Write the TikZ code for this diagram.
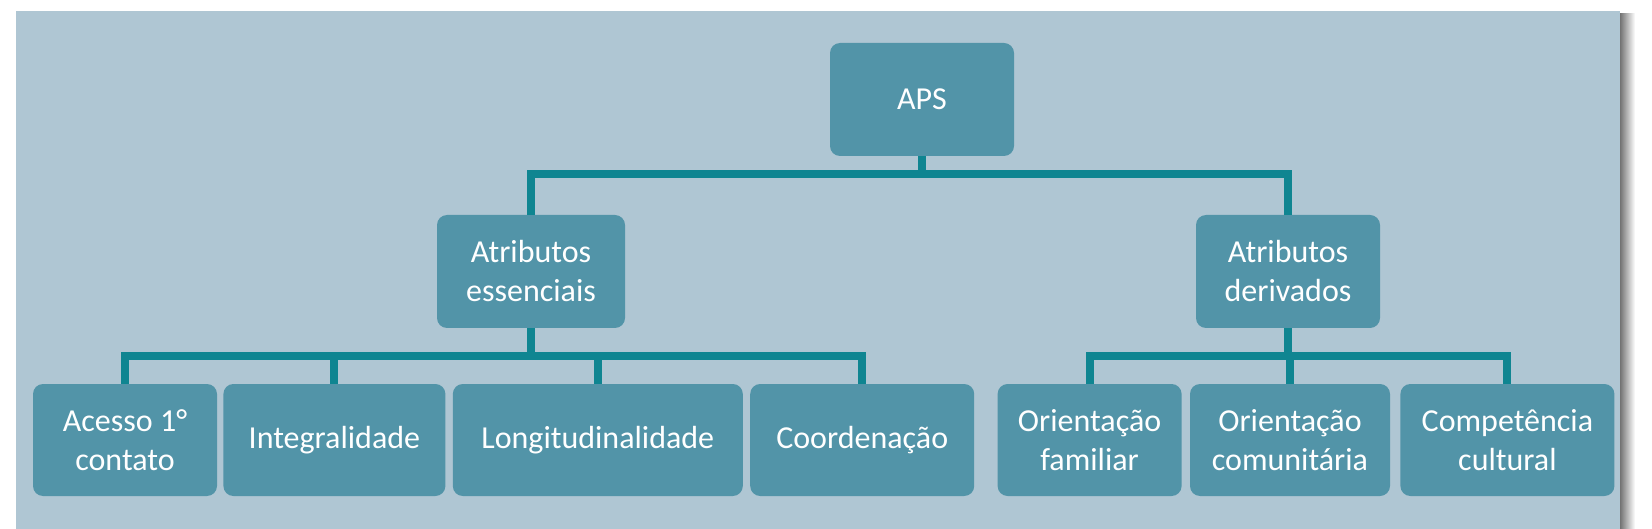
\documentclass[tikz,border=0pt]{standalone}
\usepackage{fontspec}
\setmainfont{Carlito}
\usepackage{tikz}
\usetikzlibrary{positioning}
\usepackage{xcolor}
\definecolor{panelblue}{HTML}{AFC6D3}
\definecolor{boxteal}{HTML}{5294A8}
\definecolor{busteal}{HTML}{0F8591}

\begin{document}
\begin{tikzpicture}[x=1pt, y=1pt, node distance=6pt,
    box/.style={fill=boxteal, rounded corners=10pt, text=white, align=center,
      inner sep=0pt, minimum height=112pt, font=\fontsize{32}{39}\selectfont},
    bus/.style={draw=busteal, line width=8pt}]
  \useasboundingbox (0,0) rectangle (1652,-529);
  \fill[white] (0,0) rectangle (1652,-529);
  \shade[left color=black!55, right color=white] (1620,-14) rectangle (1635,-529);
  \fill[panelblue] (16,-11) rectangle (1620,-529);

  \node (aps) [box, minimum width=184pt, minimum height=113pt] at (922,-99.5) {APS};
  \node (ess) [box, minimum width=188pt, minimum height=113pt] at (531,-271.5) {Atributos\\essenciais};
  \node (der) [box, minimum width=184pt, minimum height=113pt] at (1288,-271.5) {Atributos\\derivados};

  \node (acesso) [box, minimum width=184pt] at (125,-440) {Acesso 1°\\contato};
  \node (integ) [box, minimum width=222pt, right=6pt of acesso] {Integralidade};
  \node (longi) [box, minimum width=290pt, right=7pt of integ] {Longitudinalidade};
  \node (coord) [box, minimum width=224pt, right=7pt of longi] {Coordenação};
  \node (famil) [box, minimum width=184pt, right=23pt of coord] {Orientação\\familiar};
  \node (comun) [box, minimum width=200pt, right=8pt of famil] {Orientação\\comunitária};
  \node (compet) [box, minimum width=214pt, right=10pt of comun] {Competência\\cultural};

  \draw[bus] (aps.south) -- ++(0,-18) -| (ess.north);
  \draw[bus] (aps.south) -- ++(0,-18) -| (der.north);
  \foreach \c in {acesso, integ, longi, coord}
    \draw[bus] (ess.south) -- ++(0,-28) -| (\c.north);
  \foreach \c in {famil, comun, compet}
    \draw[bus] (der.south) -- ++(0,-28) -| (\c.north);
\end{tikzpicture}
\end{document}
